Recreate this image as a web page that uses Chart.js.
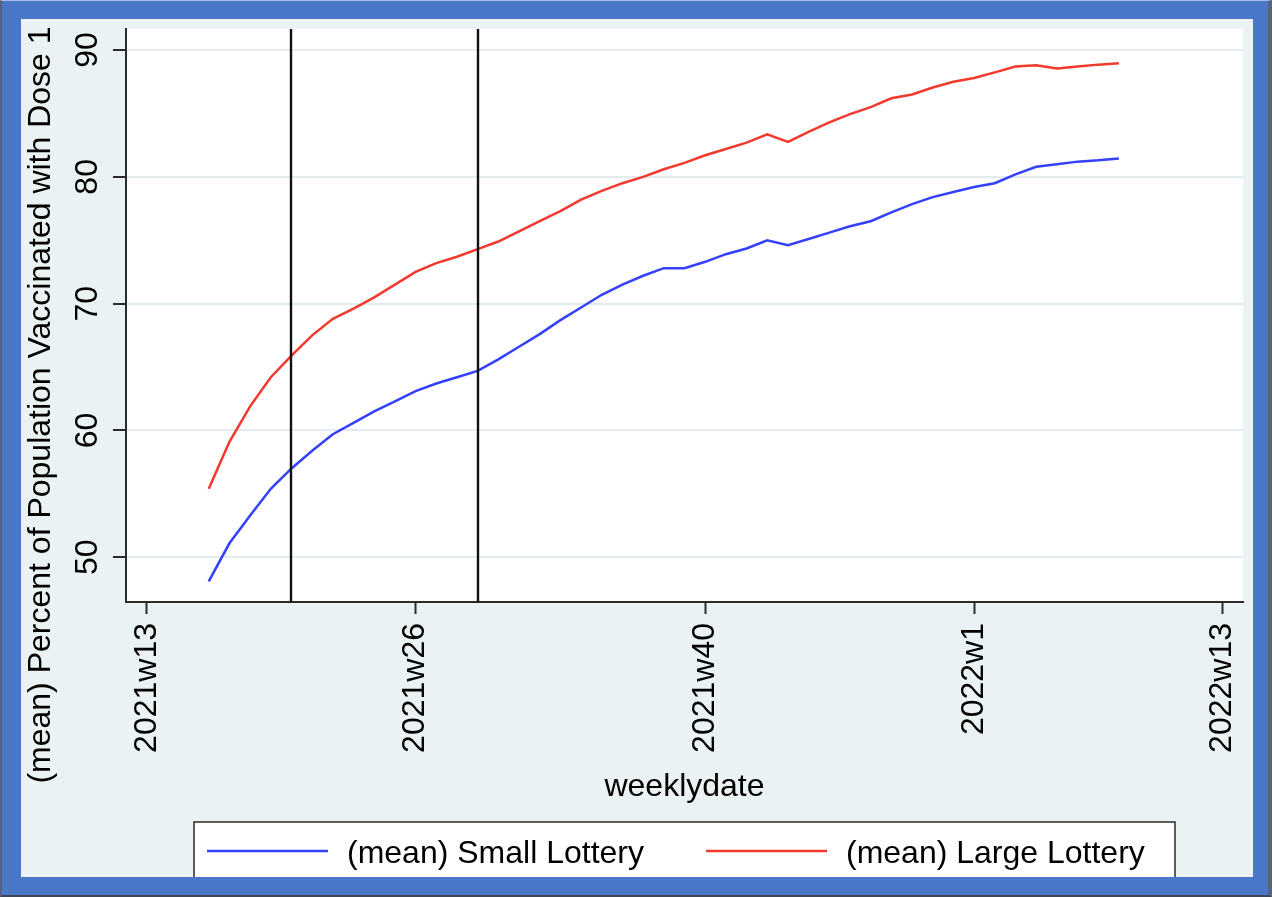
<!DOCTYPE html>
<html>
<head>
<meta charset="utf-8">
<script src="https://cdn.jsdelivr.net/npm/chart.js@4.4.1/dist/chart.umd.min.js"></script>
<style>
  html, body { margin: 0; padding: 0; background: #ffffff; }
  #frame {
    position: relative; width: 1272px; height: 897px; box-sizing: border-box;
    background: #4a77c7;
    border-left: 2px solid #5a6478; border-right: 4px solid #5a6478;
    border-top: 1px solid #a9bde0; border-bottom: 2px solid #3d4759;
  }
  #inner {
    position: absolute; left: 19px; top: 18px; width: 1232px; height: 858px;
    background: #eaf2f3; overflow: hidden;
  }
  canvas { display: block; }
</style>
</head>
<body>
<div id="frame"><div id="inner"><canvas id="c" width="1232" height="858"></canvas></div></div>
<script>
// Weekly dates (Stata %tw style) and the mean first-dose share per week
const weeks = [
  "2021w16","2021w17","2021w18","2021w19","2021w20","2021w21","2021w22","2021w23",
  "2021w24","2021w25","2021w26","2021w27","2021w28","2021w29","2021w30","2021w31",
  "2021w32","2021w33","2021w34","2021w35","2021w36","2021w37","2021w38","2021w39",
  "2021w40","2021w41","2021w42","2021w43","2021w44","2021w45","2021w46","2021w47",
  "2021w48","2021w49","2021w50","2021w51","2021w52","2022w1","2022w2","2022w3",
  "2022w4","2022w5","2022w6","2022w7","2022w8"
];
const smallLottery = [
  48.1, 51.1, 53.3, 55.4, 57.0, 58.4, 59.7, 60.6,
  61.5, 62.3, 63.1, 63.7, 64.2, 64.7, 65.6, 66.6,
  67.6, 68.7, 69.7, 70.7, 71.5, 72.2, 72.8, 72.8,
  73.3, 73.9, 74.35, 75.0, 74.6, 75.1, 75.6, 76.1,
  76.5, 77.2, 77.85, 78.4, 78.8, 79.2, 79.5, 80.2,
  80.8, 81.0, 81.2, 81.3, 81.45
];
const largeLottery = [
  55.4, 59.1, 61.9, 64.2, 65.9, 67.5, 68.8, 69.6,
  70.5, 71.5, 72.5, 73.2, 73.7, 74.3, 74.9, 75.7,
  76.5, 77.3, 78.2, 78.9, 79.5, 80.0, 80.6, 81.1,
  81.7, 82.2, 82.7, 83.35, 82.75, 83.55, 84.3, 84.95,
  85.5, 86.2, 86.5, 87.05, 87.5, 87.8, 88.24, 88.7,
  88.8, 88.55, 88.7, 88.85, 88.95
];
const seriesLabels = ["(mean) Small Lottery", "(mean) Large Lottery"];
const xTickLabels = ["2021w13", "2021w26", "2021w40", "2022w1", "2022w13"];
const xRange = ["2021w12", "2022w14"];
const yTicks = [50, 60, 70, 80, 90];
const yRange = [46.47, 91.66];
const eventWeeks = ["2021w20", "2021w29"];
const xTitle = "weeklydate";
const yTitle = "(mean) Percent of Population Vaccinated with Dose 1";

// weeks counted from 2021w13, 52 weeks per year
function weekIndex(s) {
  const [y, w] = s.split("w").map(Number);
  return (y - 2021) * 52 + (w - 13);
}

const FONT = "'Liberation Sans', Arial, Helvetica, sans-serif";
const INK = "#2b2b2b";

const toPoints = vals => vals.map((v, i) => ({ x: weekIndex(weeks[i]), y: v }));

// white plot region, the two vertical reference lines, y title and boxed legend
const decorations = {
  id: "decorations",
  beforeDraw(chart) {
    const { ctx, chartArea: a } = chart;
    ctx.save();
    ctx.fillStyle = "#ffffff";
    ctx.fillRect(a.left, a.top, a.right - a.left, a.bottom - a.top);
    ctx.restore();
  },
  afterDatasetsDraw(chart) {
    const { ctx, chartArea: a, scales } = chart;
    ctx.save();
    ctx.strokeStyle = "#111111";
    ctx.lineWidth = 2.4;
    eventWeeks.forEach(w => {
      const px = Math.round(scales.x.getPixelForValue(weekIndex(w)));
      ctx.beginPath();
      ctx.moveTo(px, a.top);
      ctx.lineTo(px, a.bottom);
      ctx.stroke();
    });
    ctx.restore();
  },
  afterDraw(chart) {
    const { ctx } = chart;
    // y axis title
    ctx.save();
    ctx.translate(20, 386);
    ctx.rotate(-Math.PI / 2);
    ctx.font = "32px " + FONT;
    ctx.fillStyle = "#000000";
    ctx.textAlign = "center";
    ctx.textBaseline = "middle";
    ctx.fillText(yTitle, 0, 0);
    ctx.restore();

    // legend box
    const box = { left: 173, right: 1154, top: 803, bottom: 900 };
    ctx.save();
    ctx.fillStyle = "#ffffff";
    ctx.fillRect(box.left, box.top, box.right - box.left, box.bottom - box.top);
    ctx.strokeStyle = INK;
    ctx.lineWidth = 1.5;
    ctx.strokeRect(box.left, box.top, box.right - box.left, box.bottom - box.top);
    ctx.font = "32px " + FONT;
    const sets = chart.data.datasets;
    const lineLen = 121, gap = 19, itemGap = 62;
    const widths = sets.map(d => ctx.measureText(d.label).width);
    let x = box.left + 13;
    const yLine = 832, yText = 835;
    sets.forEach((d, i) => {
      ctx.strokeStyle = d.borderColor;
      ctx.lineWidth = d.borderWidth;
      ctx.beginPath();
      ctx.moveTo(x, yLine);
      ctx.lineTo(x + lineLen, yLine);
      ctx.stroke();
      ctx.fillStyle = "#000000";
      ctx.textAlign = "left";
      ctx.textBaseline = "middle";
      ctx.fillText(d.label, x + lineLen + gap, yText);
      x += lineLen + gap + widths[i] + itemGap;
    });
    ctx.restore();
  }
};

new Chart(document.getElementById("c"), {
  type: "line",
  data: {
    datasets: [
      { label: seriesLabels[0], data: toPoints(smallLottery), borderColor: "#3341ff", borderWidth: 2.5, pointRadius: 0, tension: 0, fill: false },
      { label: seriesLabels[1], data: toPoints(largeLottery), borderColor: "#f2392e", borderWidth: 2.5, pointRadius: 0, tension: 0, fill: false }
    ]
  },
  options: {
    responsive: false,
    animation: false,
    devicePixelRatio: 1,
    layout: { padding: { left: 0, top: 10, right: 10, bottom: 70 } },
    plugins: { legend: { display: false }, tooltip: { enabled: false } },
    scales: {
      x: {
        type: "linear",
        min: weekIndex(xRange[0]),
        max: weekIndex(xRange[1]),
        afterBuildTicks: s => { s.ticks = xTickLabels.map(l => ({ value: weekIndex(l) })); },
        afterFit: s => { s.height = 205; s.paddingLeft = 0; s.paddingRight = 0; },
        grid: { drawOnChartArea: false, drawTicks: true, tickLength: 12, tickColor: INK, tickWidth: 2 },
        border: { display: true, color: INK, width: 2 },
        ticks: {
          autoSkip: false, minRotation: 90, maxRotation: 90, padding: 9,
          color: "#000000", font: { family: FONT, size: 32 },
          callback: (v, i) => xTickLabels[i]
        },
        title: { display: true, text: xTitle, color: "#000000", font: { family: FONT, size: 32 }, padding: { top: 0, bottom: 1 } }
      },
      y: {
        type: "linear",
        min: yRange[0],
        max: yRange[1],
        afterBuildTicks: s => { s.ticks = yTicks.map(v => ({ value: v })); },
        afterFit: s => { s.width = 105; s.paddingTop = 0; s.paddingBottom = 0; },
        grid: { color: "#e2ecef", lineWidth: 2, drawTicks: true, tickLength: 13, tickColor: INK, tickWidth: 2 },
        border: { display: true, color: INK, width: 2 },
        ticks: {
          autoSkip: false, minRotation: 90, maxRotation: 90, padding: 7, crossAlign: "center",
          color: "#000000", font: { family: FONT, size: 32 },
          callback: v => String(v)
        }
      }
    }
  },
  plugins: [decorations]
});
</script>
</body>
</html>
